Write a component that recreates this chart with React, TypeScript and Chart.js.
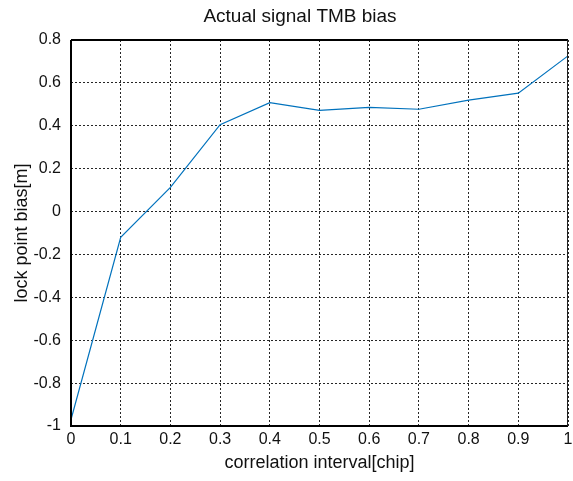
import React, { useEffect, useRef } from "react";
import { Chart, registerables } from "chart.js";

Chart.register(...registerables);

const xValues = [0, 0.1, 0.2, 0.3, 0.4, 0.5, 0.6, 0.7, 0.8, 0.9, 1.0];
const biasValues = [-0.97, -0.12, 0.113, 0.405, 0.508, 0.472, 0.486, 0.477, 0.52, 0.552, 0.726];
const titleText = "Actual signal TMB bias";
const xTitle = "correlation interval[chip]";
const yTitle = "lock point bias[m]";

const FONT = "'Liberation Sans', Arial, Helvetica, sans-serif";

const boxPlugin = {
  id: "matlabBox",
  afterDraw(chart: any) {
    const { ctx, chartArea } = chart;
    const { left, right, top, bottom } = chartArea;
    ctx.save();
    ctx.strokeStyle = "#000";
    ctx.setLineDash([]);
    ctx.lineWidth = 2;
    ctx.beginPath();
    ctx.moveTo(left, top);
    ctx.lineTo(left, bottom);
    ctx.lineTo(right, bottom);
    ctx.moveTo(left, top);
    ctx.lineTo(right, top);
    ctx.stroke();
    ctx.lineWidth = 1;
    ctx.strokeStyle = "#222";
    ctx.beginPath();
    ctx.moveTo(right - 0.5, top);
    ctx.lineTo(right - 0.5, bottom);
    ctx.stroke();
    // title, centred like the reference
    ctx.fillStyle = "#111";
    ctx.font = `19px ${FONT}`;
    ctx.textAlign = "center";
    ctx.textBaseline = "middle";
    ctx.fillText(titleText, 300, 17);
    ctx.restore();
  },
};

export default function App() {
  const ref = useRef<HTMLCanvasElement>(null);
  useEffect(() => {
    if (!ref.current) return;
    const chart = new Chart(ref.current, {
      type: "line",
      data: {
        datasets: [
          {
            data: xValues.map((x, i) => ({ x, y: biasValues[i] })),
            borderColor: "#0072BD",
            borderWidth: 1.2,
            pointRadius: 0,
            tension: 0,
            fill: false,
          },
        ],
      },
      options: {
        animation: false,
        responsive: false,
        layout: { padding: { left: 0, right: 5, top: 40, bottom: 0 } },
        plugins: {
          legend: { display: false },
          tooltip: { enabled: false },
          title: { display: false },
        },
        scales: {
          x: {
            type: "linear",
            min: 0,
            max: 1,
            ticks: {
              stepSize: 0.1,
              color: "#111",
              font: { family: FONT, size: 16 },
              padding: 4,
              maxRotation: 0,
              autoSkip: false,
              callback: (v: any) => String(Number(Number(v).toFixed(1))),
            },
            grid: {
              color: "rgba(0,0,0,0.85)",
              lineWidth: 1,
              drawTicks: false,
            },
            border: { display: false, dash: [2, 2] },
            title: {
              display: true,
              text: xTitle,
              color: "#111",
              font: { family: FONT, size: 18 },
              padding: { top: 0, bottom: 7 },
            },
            afterFit: (scale: any) => {
              scale.height = 55;
              scale.paddingRight = 0;
              scale.paddingLeft = 0;
            },
          },
          y: {
            type: "linear",
            min: -1,
            max: 0.8,
            ticks: {
              stepSize: 0.2,
              color: "#111",
              font: { family: FONT, size: 16 },
              padding: 10,
              autoSkip: false,
              callback: (v: any) => String(Number(Number(v).toFixed(1))),
            },
            grid: {
              color: "rgba(0,0,0,0.85)",
              lineWidth: 1,
              drawTicks: false,
            },
            border: { display: false, dash: [2, 2] },
            title: {
              display: true,
              text: yTitle,
              color: "#111",
              font: { family: FONT, size: 18 },
              padding: { top: 11, bottom: 0 },
            },
            afterFit: (scale: any) => {
              scale.width = 71;
              scale.paddingTop = 0;
              scale.paddingBottom = 0;
            },
          },
        },
      },
      plugins: [boxPlugin],
    });
    return () => chart.destroy();
  }, []);
  return (
    <div style={{ position: "fixed", left: 0, top: 0, width: 573, height: 481, background: "#fff" }}>
      <canvas ref={ref} width={573} height={481} />
    </div>
  );
}
